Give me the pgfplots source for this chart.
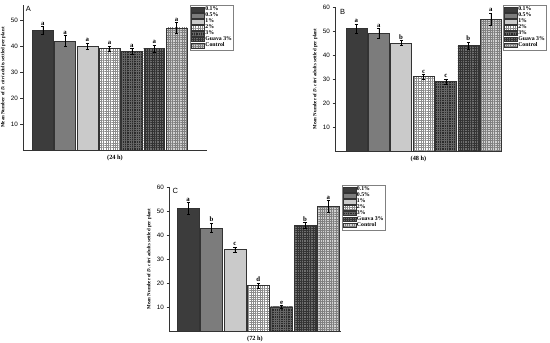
\documentclass[border=0pt]{standalone}
\usepackage{pgfplots}
\pgfplotsset{compat=1.18}
\usepackage{fontspec}
\setmainfont{Liberation Serif}
\setsansfont{Liberation Sans}
\usetikzlibrary{patterns,patterns.meta}
\definecolor{cA}{HTML}{3C3C3C}
\definecolor{cB}{HTML}{7C7C7C}
\definecolor{cC}{HTML}{CACACA}
\definecolor{cE}{HTML}{2A2A2A}
\definecolor{cF}{HTML}{6E6E6E}
\definecolor{cG}{HTML}{D2D2D2}
\tikzset{
  lett/.style={above, inner sep=0.8pt, font=\bfseries\fontsize{6.8}{7}\selectfont},
  plab/.style={anchor=north west, inner sep=0pt, font=\sffamily\fontsize{7.5}{7.5}\selectfont},
}
\pgfplotsset{
  s1/.style={draw=black!80, line width=0.4pt, fill=cA},
  s2/.style={draw=black!80, line width=0.4pt, fill=cB},
  s3/.style={draw=black!80, line width=0.4pt, fill=cC},
  s4/.style={draw=black!80, line width=0.4pt, fill=white, postaction={pattern={Hatch[angle=0,distance=2.3pt,line width=0.35pt]}, pattern color=black!45}},
  s5/.style={draw=black!80, line width=0.4pt, fill=cE, postaction={pattern={Hatch[angle=0,distance=2.3pt,line width=0.35pt]}, pattern color=black!60}},
  s6/.style={draw=black!80, line width=0.4pt, fill=cF, postaction={pattern={Hatch[angle=0,distance=2.3pt,line width=0.35pt]}, pattern color=black!80}},
  s7/.style={draw=black!80, line width=0.4pt, fill=cG, postaction={pattern={Hatch[angle=0,distance=2.3pt,line width=0.35pt]}, pattern color=black!50}},
  panel/.style={
    scale only axis, ybar, bar width=0.94, bar shift=0pt,
    enlarge x limits=false,
    axis x line*=bottom, axis y line*=left,
    axis line style={-, line width=0.6pt, black!80},
    ymin=0, xtick=\empty,
    ytick style={black!80, line width=0.5pt}, tick align=outside, major tick length=2.5pt,
    /pgf/number format/assume math mode=true,
    yticklabel style={font=\sffamily\fontsize{6.3}{6.5}\selectfont, xshift=0.8pt},
    xlabel style={font=\bfseries\fontsize{6.3}{6.5}\selectfont, yshift=1pt},
    ylabel style={font=\bfseries\fontsize{4.9}{5}\selectfont, yshift=-1.5pt},
    ylabel={Mean Number of \textit{D. citri} adults settled per plant},
    legend cell align=left,
    legend style={font=\bfseries\fontsize{5.8}{6}\selectfont, draw=black!50, line width=0.4pt, inner sep=0.8pt, row sep=-1.2pt, anchor=north west, nodes={inner sep=0.9pt}},
    legend image code/.code={\draw[##1] (0pt,-2.3pt) rectangle (13pt,2.3pt);},
    error bars/y dir=both, error bars/y explicit,
    error bars/error bar style={black, line width=0.4pt},
    error bars/error mark options={black, rotate=90, mark size=1.6pt, line width=0.4pt},
  },
}
\begin{document}
\begin{tikzpicture}
% ---------- Panel A (24 h) ----------
\begin{axis}[panel, at={(23pt,193pt)}, anchor=south west, width=184pt, height=145pt,
  xmin=0.11, xmax=8.37, ymax=55.8, ytick={10,20,30,40,50},
  xlabel={(24 h)},
  legend style={at={(0.908,1)}}]
\addplot[s1] coordinates {(1,46) +- (0,1.5)};
\addplot[s2] coordinates {(2,42) +- (0,2)};
\addplot[s3] coordinates {(3,40) +- (0,1.2)};
\addplot[s4] coordinates {(4,39) +- (0,1)};
\addplot[s5] coordinates {(5,38) +- (0,1.2)};
\addplot[s6] coordinates {(6,39) +- (0,1.5)};
\addplot[s7] coordinates {(7,47) +- (0,2.2)};
\legend{0.1\%,0.5\%,1\%,2\%,3\%,Guava 3\%,Control}
\node[lett] at (axis cs:1,47.5) {a};
\node[lett] at (axis cs:2,44) {a};
\node[lett] at (axis cs:3,41.2) {a};
\node[lett] at (axis cs:4,40) {a};
\node[lett] at (axis cs:5,39.2) {a};
\node[lett] at (axis cs:6,40.5) {a};
\node[lett] at (axis cs:7,49.2) {a};
\node[plab] at (rel axis cs:0.015,0.99) {A};
\end{axis}
% ---------- Panel B (48 h) ----------
\begin{axis}[panel, at={(335pt,192pt)}, anchor=south west, width=167pt, height=144pt,
  xmin=0.05, xmax=7.5, ymax=60, ytick={10,20,30,40,50,60},
  xlabel={(48 h)},
  legend style={at={(1.006,1.014)}}]
\addplot[s1] coordinates {(1,51) +- (0,2)};
\addplot[s2] coordinates {(2,49) +- (0,2)};
\addplot[s3] coordinates {(3,45) +- (0,1)};
\addplot[s4] coordinates {(4,31) +- (0,1)};
\addplot[s5] coordinates {(5,29) +- (0,1)};
\addplot[s6] coordinates {(6,44) +- (0,1.5)};
\addplot[s7] coordinates {(7,55) +- (0,2.5)};
\legend{0.1\%,0.5\%,1\%,2\%,3\%,Guava 3\%,Control}
\node[lett] at (axis cs:1,53) {a};
\node[lett] at (axis cs:2,51) {a};
\node[lett] at (axis cs:3,46) {b};
\node[lett] at (axis cs:4,32) {c};
\node[lett] at (axis cs:5,30) {c};
\node[lett] at (axis cs:6,45.5) {b};
\node[lett] at (axis cs:7,57.5) {a};
\node[plab] at (rel axis cs:0.03,0.985) {B};
\end{axis}
% ---------- Panel C (72 h) ----------
\begin{axis}[panel, at={(169pt,12pt)}, anchor=south west, width=172pt, height=144pt,
  xmin=0.18, xmax=7.54, ymax=60, ytick={10,20,30,40,50,60},
  xlabel={(72 h)},
  legend style={at={(1.004,1.014)}}]
\addplot[s1] coordinates {(1,51) +- (0,2.5)};
\addplot[s2] coordinates {(2,43) +- (0,2)};
\addplot[s3] coordinates {(3,34) +- (0,1)};
\addplot[s4] coordinates {(4,19) +- (0,1)};
\addplot[s5] coordinates {(5,10) +- (0,0.7)};
\addplot[s6] coordinates {(6,44) +- (0,1.3)};
\addplot[s7] coordinates {(7,52) +- (0,2.5)};
\legend{0.1\%,0.5\%,1\%,2\%,3\%,Guava 3\%,Control}
\node[lett] at (axis cs:1,53.5) {a};
\node[lett] at (axis cs:2,45) {b};
\node[lett] at (axis cs:3,35) {c};
\node[lett] at (axis cs:4,20) {d};
\node[lett] at (axis cs:5,10.7) {e};
\node[lett] at (axis cs:6,45.3) {b};
\node[lett] at (axis cs:7,54.5) {a};
\node[plab] at (rel axis cs:0.02,0.99) {C};
\end{axis}
\pgfresetboundingbox
\path[use as bounding box] (0,0) rectangle (550pt,343pt);
\end{tikzpicture}
\end{document}
